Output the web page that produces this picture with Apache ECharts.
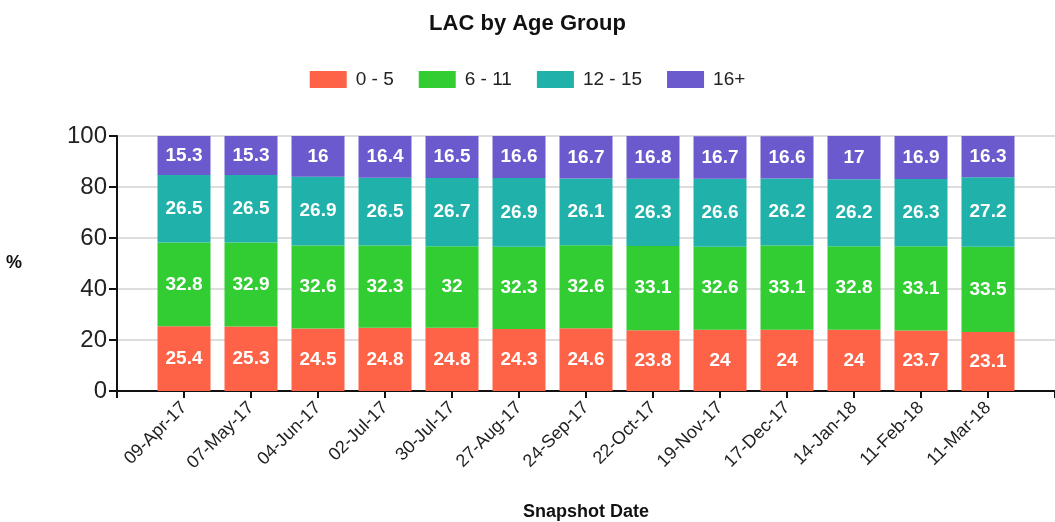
<!DOCTYPE html>
<html><head><meta charset="utf-8">
<script src="https://cdn.jsdelivr.net/npm/echarts@6/dist/echarts.min.js"></script>
<style>html,body{margin:0;padding:0;background:#fff}#c{width:1055px;height:522px}</style>
</head><body><div id="c"></div>
<script>
const categories = ['09-Apr-17','07-May-17','04-Jun-17','02-Jul-17','30-Jul-17','27-Aug-17','24-Sep-17','22-Oct-17','19-Nov-17','17-Dec-17','14-Jan-18','11-Feb-18','11-Mar-18'];
const age0to5   = [25.4,25.3,24.5,24.8,24.8,24.3,24.6,23.8,24,24,24,23.7,23.1];
const age6to11  = [32.8,32.9,32.6,32.3,32,32.3,32.6,33.1,32.6,33.1,32.8,33.1,33.5];
const age12to15 = [26.5,26.5,26.9,26.5,26.7,26.9,26.1,26.3,26.6,26.2,26.2,26.3,27.2];
const age16plus = [15.3,15.3,16,16.4,16.5,16.6,16.7,16.8,16.7,16.6,17,16.9,16.3];
const seriesNames = ['0 - 5','6 - 11','12 - 15','16+'];
const colors = ['#FF6347','#32CD32','#20B2AA','#6A5ACD'];
const yTicks = [0,20,40,60,80,100];

const font = '"Liberation Sans", Arial, sans-serif';
// blank slots at both ends give the outer padding of the band scale
const xCats = [''].concat(categories, ['']);
const all = [age0to5, age6to11, age12to15, age16plus];
const chart = echarts.init(document.getElementById('c'));
chart.setOption({
  animation:false,
  title:{text:'LAC by Age Group',left:'center',top:8,textStyle:{fontFamily:font,fontSize:22,fontWeight:'bold',color:'#111'}},
  legend:{top:65,left:'center',itemWidth:37,itemHeight:17,itemGap:25,icon:'rect',
    textStyle:{fontFamily:font,fontSize:19,color:'#222',padding:[0,0,0,4]},data:seriesNames},
  grid:{left:117,right:0,top:136,bottom:131,containLabel:false,outerBoundsMode:'none'},
  xAxis:{type:'category',data:xCats,boundaryGap:false,
    axisLine:{show:true,lineStyle:{color:'#111',width:2}},
    axisTick:{show:true,length:7,interval:0,lineStyle:{color:'#111',width:2}},
    splitLine:{show:false},
    axisLabel:{rotate:45,margin:14,interval:0,fontFamily:font,fontSize:18,color:'#222'},
    name:'Snapshot Date',nameLocation:'middle',nameGap:112,
    nameTextStyle:{fontFamily:font,fontSize:18,fontWeight:'bold',color:'#111'}},
  yAxis:{type:'value',min:yTicks[0],max:yTicks[yTicks.length-1],interval:20,
    axisLine:{show:true,lineStyle:{color:'#111',width:2}},
    axisTick:{show:true,length:8,lineStyle:{color:'#111',width:2}},
    splitLine:{show:true,lineStyle:{color:'#ddd',width:2}},
    axisLabel:{fontFamily:font,fontSize:24,color:'#222',margin:10},
    name:'%',nameLocation:'middle',nameRotate:0,nameGap:95,
    nameTextStyle:{fontFamily:font,fontSize:18,fontWeight:'bold',color:'#111'}},
  series: all.map((arr,k)=>({
    name:seriesNames[k],type:'bar',stack:'total',barWidth:53,
    itemStyle:{color:colors[k]},
    label:{show:true,position:'inside',color:'#fff',fontFamily:font,fontSize:19,fontWeight:'bold'},
    data:[null].concat(arr,[null])
  }))
});
</script></body></html>
